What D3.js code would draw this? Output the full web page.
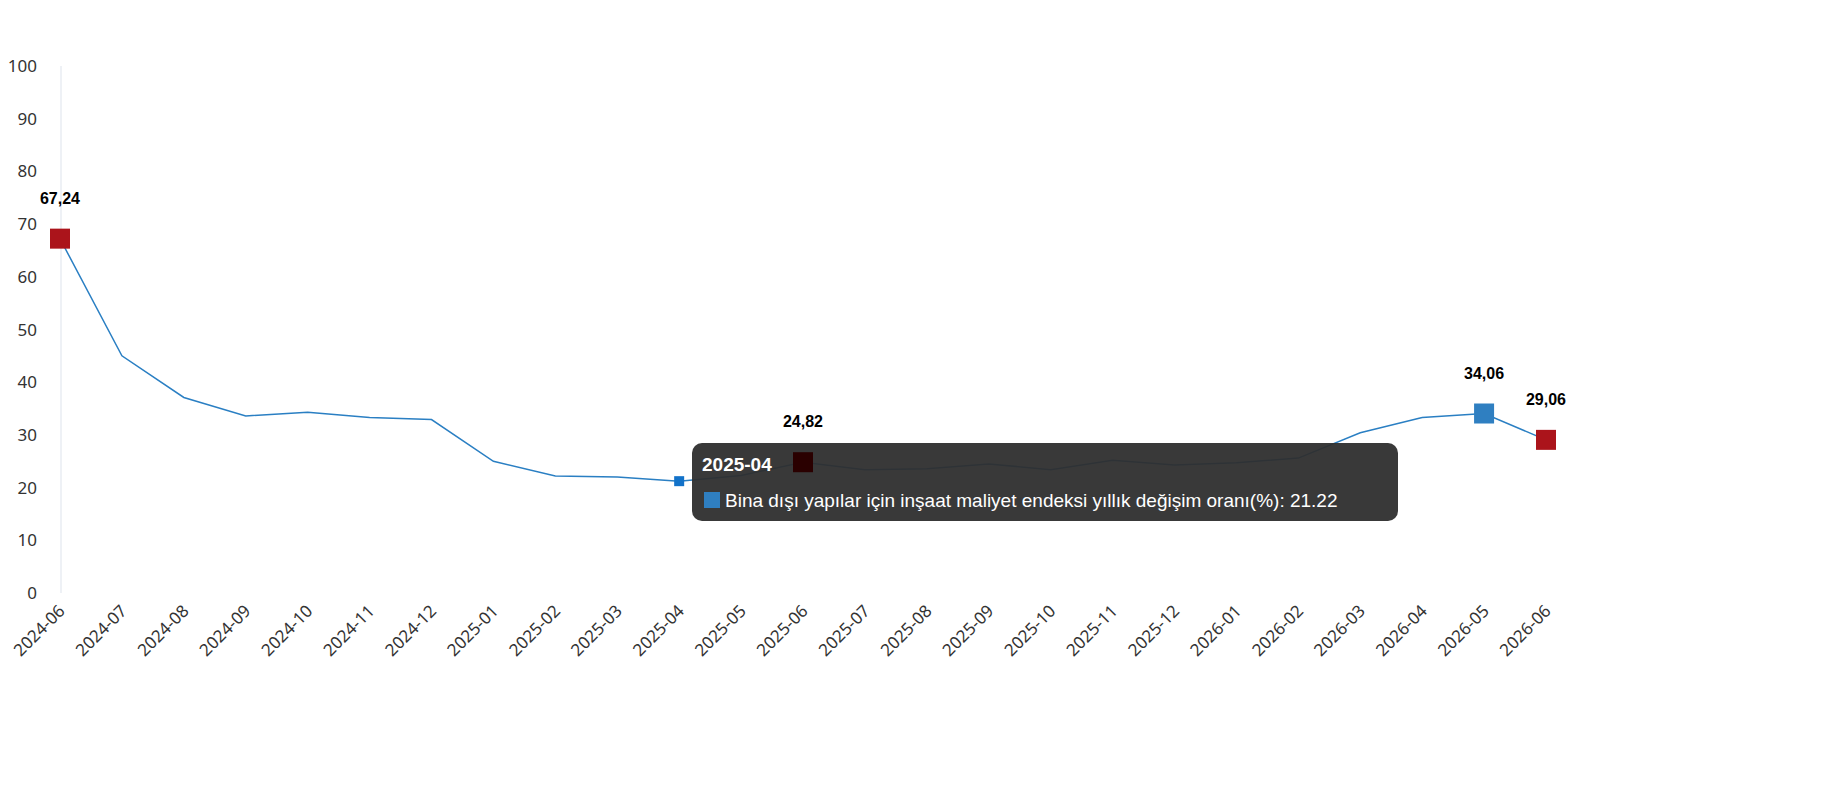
<!DOCTYPE html>
<html><head><meta charset="utf-8">
<script src="https://cdn.jsdelivr.net/npm/d3@7"></script>
<style>body{margin:0;background:#fff}</style>
</head><body><svg id="chart" width="1830" height="800"></svg>
<script>
const months = ["2024-06","2024-07","2024-08","2024-09","2024-10","2024-11","2024-12","2025-01","2025-02","2025-03","2025-04","2025-05","2025-06","2025-07","2025-08","2025-09","2025-10","2025-11","2025-12","2026-01","2026-02","2026-03","2026-04","2026-05","2026-06"];
const values = [67.24,45.0,37.1,33.6,34.3,33.3,32.9,25.0,22.2,22.0,21.22,22.3,24.82,23.4,23.6,24.5,23.4,25.2,24.3,24.7,25.6,30.4,33.3,34.06,29.06];
const yTicks = [0,10,20,30,40,50,60,70,80,90,100];
// highlighted points: index, colour
const marked = [[0,"#ab141b"],[12,"#2a0000"],[23,"#2f7fc1"],[24,"#ab141b"]];
const hoverIdx = 10;
const seriesName = "Bina dışı yapılar için inşaat maliyet endeksi yıllık değişim oranı(%)";

const svg = d3.select("#chart");
const x = d3.scalePoint().domain(months).range([60, 1546]);
const y = d3.scaleLinear().domain([0, 100]).range([593, 66]);
const font = "Noto Sans, sans-serif";
const sans = "Liberation Sans, Arial, sans-serif";

// y axis
svg.append("line").attr("x1", 61).attr("x2", 61).attr("y1", 66).attr("y2", 593)
    .attr("stroke", "#dde3ec");
svg.selectAll("text.yt").data(yTicks).enter().append("text")
    .attr("x", 37).attr("y", d => y(d) + 6).attr("text-anchor", "end")
    .attr("font-family", font).attr("font-size", 17).attr("fill", "#333").text(d => d);

// x labels
svg.selectAll("text.xt").data(months).enter().append("text")
    .attr("transform", d => `translate(${x(d) + 6},${612}) rotate(-45)`)
    .attr("text-anchor", "end").attr("font-family", font).attr("font-size", 17)
    .attr("fill", "#333").text(d => d);

// line
const line = d3.line().x((d, i) => x(months[i])).y(d => y(d));
svg.append("path").datum(values).attr("d", line).attr("fill", "none")
    .attr("stroke", "#2a7fc3").attr("stroke-width", 1.5);

// hover point
svg.append("rect").attr("x", x(months[hoverIdx]) - 5).attr("y", y(values[hoverIdx]) - 5)
    .attr("width", 10).attr("height", 10).attr("fill", "#1272c9");

// tooltip
const tt = svg.append("g").attr("transform", "translate(692,443)");
tt.append("rect").attr("width", 706).attr("height", 78).attr("rx", 10)
    .attr("fill", "#2e2e2e").attr("fill-opacity", 0.95);
tt.append("text").attr("x", 10).attr("y", 28).attr("font-family", sans)
    .attr("font-weight", "bold").attr("font-size", 19).attr("fill", "#fff").text(months[hoverIdx]);
tt.append("rect").attr("x", 12).attr("y", 49).attr("width", 16).attr("height", 16).attr("fill", "#2f7fc1");
tt.append("text").attr("x", 33).attr("y", 64).attr("font-family", sans)
    .attr("font-size", 19).attr("fill", "#fff").text(`${seriesName}: ${values[hoverIdx]}`);

// marked points (above tooltip)
marked.forEach(([i, c]) => {
    svg.append("rect").attr("x", x(months[i]) - 10).attr("y", y(values[i]) - 10)
        .attr("width", 20).attr("height", 20).attr("fill", c);
    svg.append("text").attr("x", x(months[i])).attr("y", y(values[i]) - 35)
        .attr("text-anchor", "middle").attr("font-family", sans)
        .attr("font-weight", "bold").attr("font-size", 16).attr("fill", "#000")
        .text(values[i].toFixed(2).replace(".", ","));
});
</script></body></html>
